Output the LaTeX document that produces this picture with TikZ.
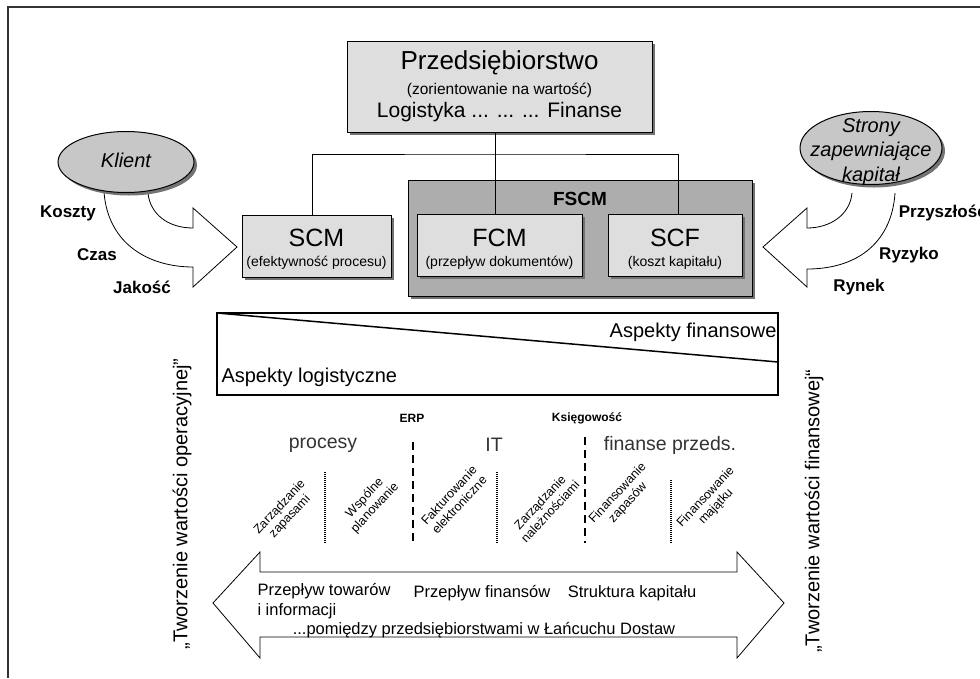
\documentclass[tikz,border=0pt]{standalone}
\usepackage{fontspec}
\setmainfont{Liberation Sans}
\usetikzlibrary{shapes.geometric,shadows}
\newcommand\fsz[1]{\fontsize{#1}{#1}\selectfont}

\begin{document}
\begin{tikzpicture}[x=1pt,y=-1pt,line width=1pt,
  box/.style={draw,fill=black!13,inner sep=0,
    drop shadow={shadow xshift=3pt,shadow yshift=-3pt,fill=black!55,opacity=1}},
  oval/.style={ellipse,draw,fill=black!22,inner sep=0,
    drop shadow={shadow xshift=3pt,shadow yshift=-3pt,fill=black!55,opacity=1}},
  bigarrow/.style={draw,fill=white,line width=.8pt,line join=miter},
  sidelabel/.style={font=\bfseries\fsz{17}},
  rot/.style={rotate=47,align=center,inner sep=0,font=\fontsize{12.5}{14}\selectfont},
  flow/.style={font=\fsz{16.5},inner sep=0}]
\useasboundingbox (0,0) rectangle (980,678);
\draw[line width=1.2pt,black!80] (980,7) -- (8,7) -- (8,678);

% enterprise
\node[box,minimum width=305,minimum height=91] (firm) at (499.5,86.5) {};
\node[font=\fsz{26}] (firmname) at (499.5,63) {Przedsiębiorstwo};
\node[font=\fsz{15.5}] (firmgoal) at (499.5,90) {(zorientowanie na wartość)};
\node[font=\fsz{21}] (firmarea) at (499.5,112) {Logistyka ... ... ... Finanse};

% FSCM
\node[box,fill=black!32,minimum width=344,minimum height=116] (fscm) at (580,238) {};
\node[font=\bfseries\fsz{19}] (fscmname) at (580,199) {FSCM};
\node[box,minimum width=149,minimum height=62] (scm) at (316.5,246) {};
\node[box,minimum width=165,minimum height=62] (fcm) at (499.5,245) {};
\node[box,minimum width=134,minimum height=62] (scf) at (675,245) {};
\node[font=\fsz{25}] (scmname) at (316.5,238) {SCM};
\node[font=\fsz{14}] (scmsub) at (316.5,263) {(efektywność procesu)};
\node[font=\fsz{25}] (fcmname) at (499.5,238) {FCM};
\node[font=\fsz{14}] (fcmsub) at (499.5,263) {(przepływ dokumentów)};
\node[font=\fsz{25}] (scfname) at (675,238) {SCF};
\node[font=\fsz{14}] (scfsub) at (675,263) {(koszt kapitału)};

\coordinate (bus) at (495,154);
\draw ([xshift=-4]scm.north) |- (bus) -| ([xshift=3]scf.north);
\draw (firm.south -| bus) -- (fcm.north -| bus);

% client side
\draw[bigarrow] (104,192) .. controls (108,245) and (150,267) .. (193,267)
  -- (193,287) -- (237,247) -- (193,208) -- (193,228)
  .. controls (168,228) and (150,214) .. (148,193);
\node[oval,minimum width=136,minimum height=61] (klient) at (126,162) {};
\node[font=\itshape\fsz{20}] (klientname) at (126,160) {Klient};
\node[sidelabel] (koszty) at (68,213) {Koszty};
\node[sidelabel] (czas) at (97,255) {Czas};
\node[sidelabel] (jakosc) at (142,287) {Jakość};

% capital side
\draw[bigarrow] (852,193) .. controls (850,215) and (830,228) .. (807,228)
  -- (807,208) -- (763,247) -- (807,287) -- (807,269)
  .. controls (860,269) and (892,240) .. (895,193);
\node[oval,minimum width=142,minimum height=73] (kapital) at (871,148) {};
\node[font=\itshape\fontsize{20}{24.5}\selectfont,align=center] (kapitalname) at (871,152)
  {Strony\\zapewniające\\kapitał};
\node[sidelabel,anchor=west] (przyszlosc) at (895,213) {Przyszłość};
\node[sidelabel] (ryzyko) at (909,255) {Ryzyko};
\node[sidelabel] (rynek) at (859,287) {Rynek};

% aspects
\draw[line width=2pt] (217,313) rectangle (778,395);
\draw[line width=1.5pt] (217,313) -- (778,362);
\node[font=\fsz{20},anchor=east,inner sep=1] (finasp) at (778,332) {Aspekty finansowe};
\node[font=\fsz{20},anchor=west,inner sep=1] (logasp) at (220,377) {Aspekty logistyczne};

% areas
\node[font=\bfseries\fsz{12}] (erp) at (412,418) {ERP};
\node[font=\bfseries\fsz{12}] (ksieg) at (587,418) {Księgowość};
\node[font=\fsz{19.5},text=black!80] (procesy) at (323,445) {procesy};
\node[font=\fsz{19.5},text=black!80] (it) at (494,445) {IT};
\node[font=\fsz{19.5},text=black!80] (finprz) at (670,445) {finanse przeds.};
\draw[line width=1.5pt,dash pattern=on 8pt off 5pt] (413,442) -- (413,543);
\draw[line width=1.5pt,dash pattern=on 8pt off 5pt] (585,437) -- (585,543);
\foreach \x/\t in {325/472,497/472,671/480}
  \draw[line width=1.5pt,dash pattern=on 1pt off 1pt] (\x,\t) -- (\x,543);
\node[rot] (zapasy) at (285,512) {Zarządzanie\\zapasami};
\node[rot] (planowanie) at (370,503) {Wspólne\\planowanie};
\node[rot] (faktury) at (454,500) {Fakturowanie\\elektroniczne};
\node[rot] (naleznosci) at (545,507) {Zarządzanie\\należnościami};
\node[rot] (finzapasy) at (623,498) {Finansowanie\\zapasów};
\node[rot] (finmajatek) at (711,502) {Finansowanie\\majątku};

% flows
\draw[bigarrow] (213,603) -- (260,552) -- (260,572) -- (737,572) -- (737,552)
  -- (784,603) -- (737,658) -- (737,637) -- (260,637) -- (260,658) -- cycle;
\node[flow,anchor=west] (towary) at (257,591) {Przepływ towarów};
\node[flow,anchor=west] (informacje) at (257,611) {i informacji};
\node[flow] (finanse) at (482,593) {Przepływ finansów};
\node[flow] (struktura) at (632,593) {Struktura kapitału};
\node[flow] (pomiedzy) at (484,630) {...pomiędzy przedsiębiorstwami w Łańcuchu Dostaw};

% value creation
\node[rotate=90,font=\fsz{20}] (opval) at (182,504) {„Tworzenie wartości operacyjnej”};
\node[rotate=90,font=\fsz{20}] (finval) at (814,511) {„Tworzenie wartości finansowej“};
\end{tikzpicture}
\end{document}
